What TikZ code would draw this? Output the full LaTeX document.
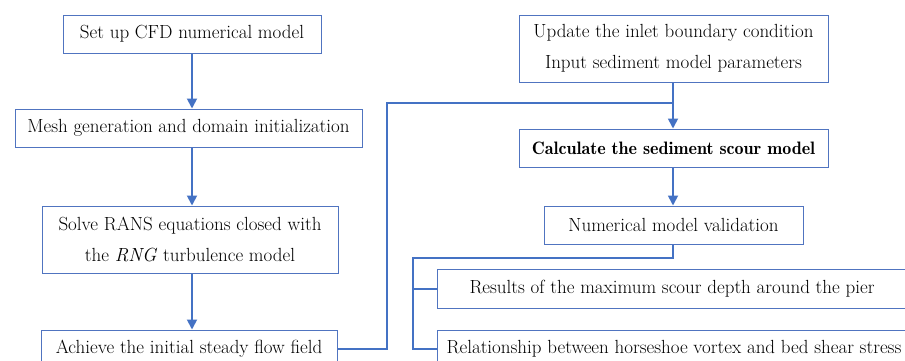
\documentclass[tikz,border=0pt]{standalone}
\usepackage{tikz}
\usetikzlibrary{arrows.meta}

\definecolor{flowblue}{RGB}{68,114,196}
\definecolor{boxblue}{RGB}{80,116,192}

\tikzset{
    stepbox/.style={draw=boxblue,line width=1pt,fill=white,align=center,
        inner sep=0pt,font=\fontsize{19}{31}\selectfont},
    flowline/.style={draw=flowblue,line width=1.8pt},
    flowarrow/.style={flowline,-{Triangle[length=10pt,width=10pt]}}
}

\begin{document}
\begin{tikzpicture}[x=1pt,y=-1pt]
    \useasboundingbox (0,0) rectangle (905,360);
    \clip (0,0) rectangle (905,360);

    % left column
    \node[stepbox,minimum width=258pt,minimum height=38pt](setup) at (192,34){Set up CFD numerical model};
    \node[stepbox,minimum width=347pt,minimum height=38pt](mesh) at (188.5,128){Mesh generation and domain initialization};
    \node[stepbox,minimum width=296pt,minimum height=67pt](rans) at (190,239.5){Solve RANS equations closed with\\the \textit{RNG} turbulence model};
    \node[stepbox,minimum width=296pt,minimum height=38pt](achieve) at (189,349){Achieve the initial steady flow field};

    % right column
    \node[stepbox,minimum width=309pt,minimum height=67pt](update) at (673.5,48.5){Update the inlet boundary condition\\Input sediment model parameters};
    \node[stepbox,minimum width=309pt,minimum height=38pt,font=\fontsize{18}{31}\selectfont](calc) at (673.5,148){\fontseries{b}\selectfont Calculate the sediment scour model};
    \node[stepbox,minimum width=259pt,minimum height=38pt](valid) at (673.5,225){Numerical model validation};
    \node[stepbox,minimum width=470pt,minimum height=39pt](results) at (672,289){Results of the maximum scour depth around the pier};
    \node[stepbox,minimum width=474pt,minimum height=38pt](relation) at (674,349){Relationship between horseshoe vortex and bed shear stress};

    \coordinate (loop) at (387,103);
    \coordinate (join) at (673,103);
    \coordinate (split) at (413,258);

    \draw[flowarrow](setup.south)--(setup.south|-mesh.north);
    \draw[flowarrow](mesh.south-|setup.south)--(setup.south|-rans.north);
    \draw[flowarrow](rans.south-|setup.south)--(setup.south|-achieve.north);

    \draw[flowline](achieve.east)-|(loop)--(join);
    \draw[flowarrow](update.south-|join)--(join|-calc.north);
    \draw[flowarrow](calc.south-|join)--(join|-valid.north);

    \draw[flowline](valid.south-|join)|-(split)|-(relation.west);
    \draw[flowline](split|-results.west)--(results.west);
\end{tikzpicture}
\end{document}
